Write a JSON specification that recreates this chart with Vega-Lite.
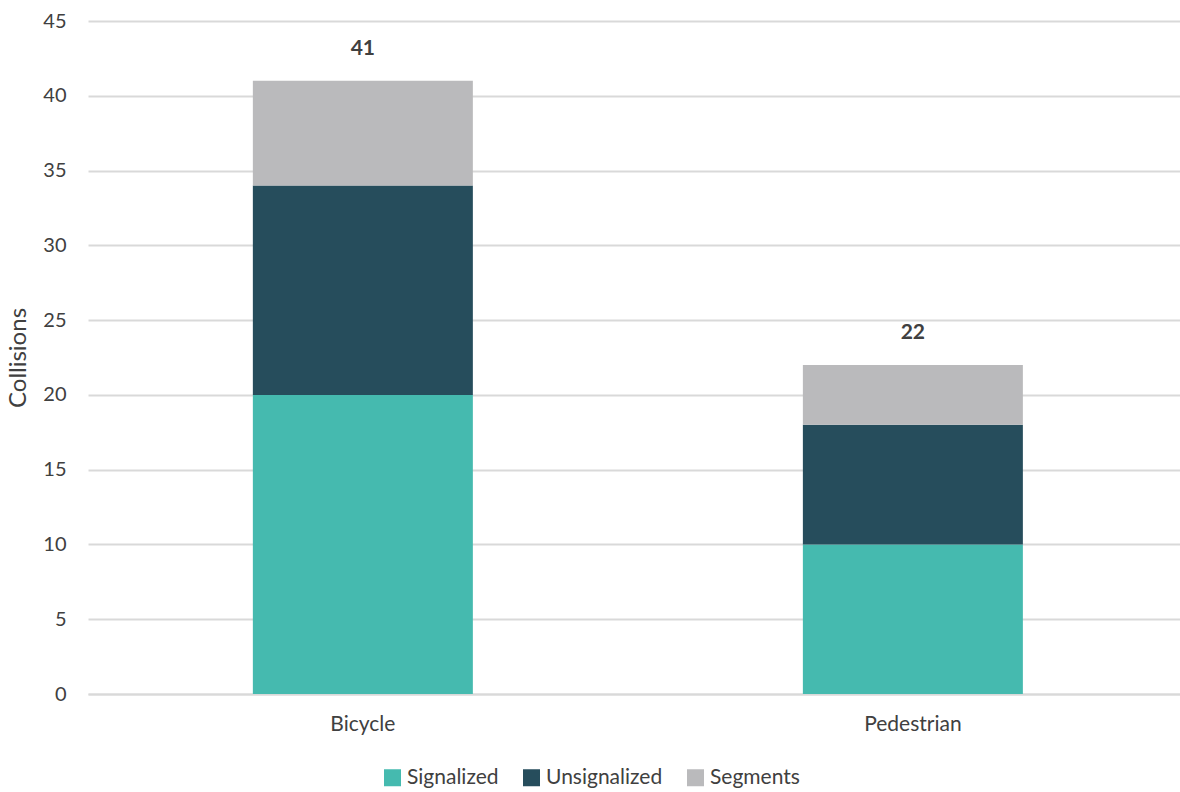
{
  "$schema": "https://vega.github.io/schema/vega-lite/v6.json",
  "width": 1092,
  "height": 673,
  "autosize": "none",
  "padding": {"left": 88, "top": 21, "right": 0, "bottom": 98},
  "background": "white",
  "config": {
    "font": "Lato",
    "view": {"stroke": null},
    "axis": {"labelColor": "#404040", "titleColor": "#404040", "labelFont": "Lato", "titleFont": "Lato"}
  },
  "data": {
    "values": [
      {"mode": "Bicycle", "type": "Signalized", "order": 1, "collisions": 20},
      {"mode": "Bicycle", "type": "Unsignalized", "order": 2, "collisions": 14},
      {"mode": "Bicycle", "type": "Segments", "order": 3, "collisions": 7},
      {"mode": "Pedestrian", "type": "Signalized", "order": 1, "collisions": 10},
      {"mode": "Pedestrian", "type": "Unsignalized", "order": 2, "collisions": 8},
      {"mode": "Pedestrian", "type": "Segments", "order": 3, "collisions": 4}
    ]
  },
  "encoding": {
    "x": {
      "field": "mode",
      "type": "nominal",
      "sort": ["Bicycle", "Pedestrian"],
      "scale": {"paddingInner": 0.6, "paddingOuter": 0.2927, "align": 0.512},
      "axis": {
        "title": null,
        "labelAngle": 0,
        "labelFontSize": 21,
        "labelPadding": 19,
        "ticks": false,
        "domain": true,
        "domainColor": "#d9d9d9",
        "domainWidth": 2
      }
    }
  },
  "layer": [
    {
      "mark": {"type": "bar"},
      "encoding": {
        "y": {
          "field": "collisions",
          "type": "quantitative",
          "aggregate": "sum",
          "stack": "zero",
          "scale": {"domain": [0, 45], "nice": false},
          "axis": {
            "title": "Collisions",
            "titleFontSize": 24,
            "titleFontWeight": "normal",
            "titlePadding": 12,
            "values": [0, 5, 10, 15, 20, 25, 30, 35, 40, 45],
            "labelFontSize": 20,
            "labelPadding": 22,
            "ticks": false,
            "domain": false,
            "grid": true,
            "gridColor": "#d9d9d9",
            "gridWidth": 2
          }
        },
        "color": {
          "field": "type",
          "type": "nominal",
          "scale": {
            "domain": ["Signalized", "Unsignalized", "Segments"],
            "range": ["#45BAAF", "#264D5C", "#BABABC"]
          },
          "legend": {
            "title": null,
            "orient": "none",
            "direction": "horizontal",
            "legendX": 294,
            "legendY": 746,
            "symbolType": "square",
            "symbolSize": 289,
            "symbolStrokeWidth": 0,
            "labelFontSize": 21,
            "labelOffset": 4,
            "labelColor": "#404040",
            "labelFont": "Lato",
            "columnPadding": 22,
            "symbolOffset": 0
          }
        },
        "order": {"field": "order", "type": "quantitative", "aggregate": "min"}
      }
    },
    {
      "mark": {"type": "text", "dy": -32, "fontSize": 21, "fontWeight": "bold", "color": "#404040", "font": "Lato"},
      "encoding": {
        "y": {"field": "collisions", "type": "quantitative", "aggregate": "sum"},
        "text": {"field": "collisions", "type": "quantitative", "aggregate": "sum"}
      }
    }
  ]
}
